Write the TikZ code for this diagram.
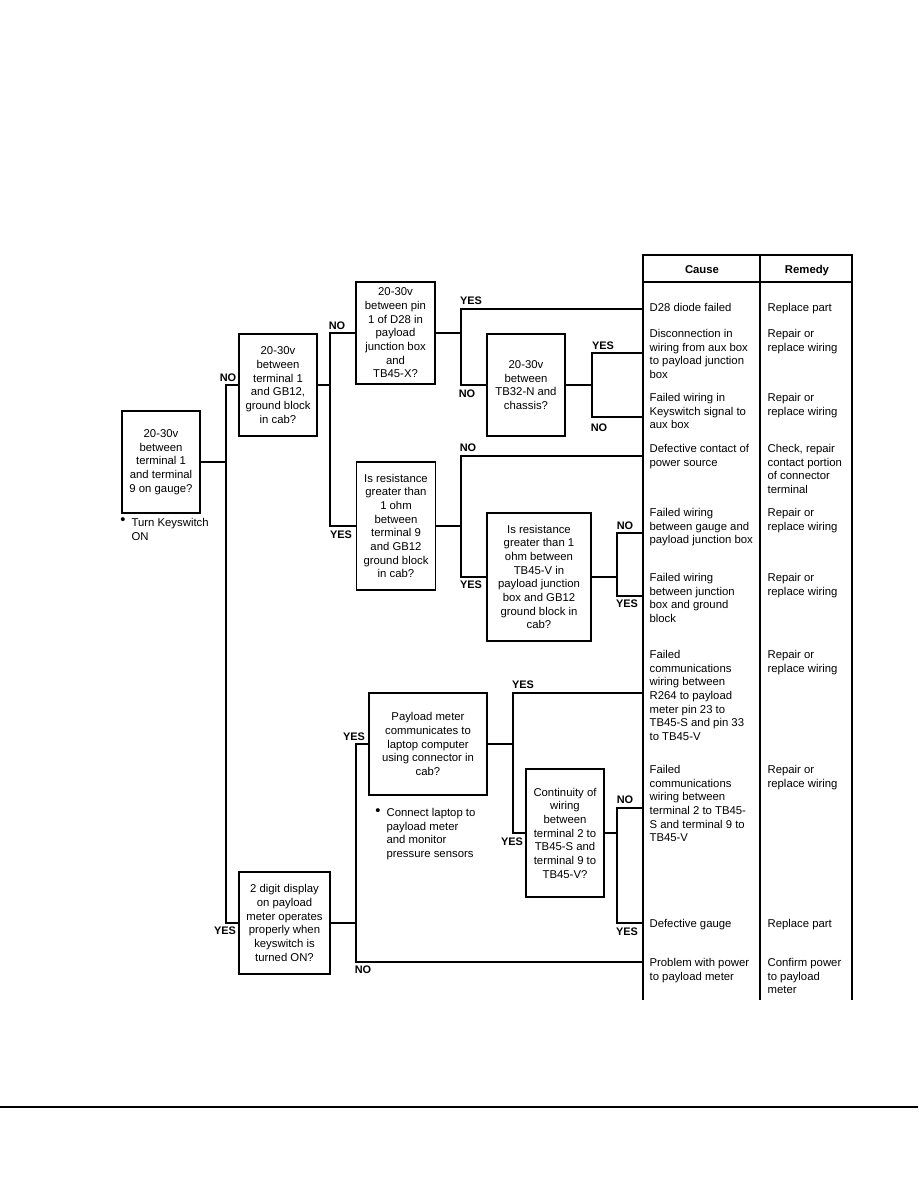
\documentclass[tikz,border=0pt]{standalone}
\usepackage{fontspec}
\setmainfont{Liberation Sans}
\newcommand\myfs{\fontsize{8.5}{10.25}\selectfont}
\begin{document}
\begin{tikzpicture}[x=0.75pt,y=-0.75pt,line width=0.9pt,
  every node/.style={inner sep=0pt},
  qbox/.style={draw,align=center,font=\myfs},
  txt/.style={align=left,anchor=north west,font=\myfs},
  lab/.style={font=\bfseries\fontsize{8.2}{10}\selectfont},
  hdr/.style={font=\bfseries\myfs,anchor=base},
  bul/.style={font=\fontsize{11}{12}\selectfont},
  tbl/.style={line width=1pt}]
\useasboundingbox (0,0) rectangle (918,1188);

% ---------- table ----------
\coordinate (tTL) at (643,255);
\coordinate (tTR) at (852,255);
\coordinate (tBL) at (643,1000);
\coordinate (tBR) at (852,1000);
\coordinate (tDT) at (760,255);
\coordinate (tDB) at (760,1000);
\coordinate (hL) at (643,282);
\coordinate (hR) at (852,282);
\draw[tbl] (tBL) -- (tTL) -- (tTR) -- (tBR);
\draw[tbl] (hL) -- (hR);
\draw[tbl] (tDT) -- (tDB);
\node[hdr] (hc) at (702,273) {Cause};
\node[hdr] (hr) at (807,273) {Remedy};

% cause column
\node[txt] (c1t) at (649,302.8) {D28 diode failed};
\node[txt] (c2t) at (649,328.8) {Disconnection in\\wiring from aux box\\to payload junction\\box};
\node[txt] (c3t) at (649,392.8) {Failed wiring in\\Keyswitch signal to\\aux box};
\node[txt] (c4t) at (649,443.8) {Defective contact of\\power source};
\node[txt] (c5t) at (649,507.8) {Failed wiring\\between gauge and\\payload junction box};
\node[txt] (c6t) at (649,572.8) {Failed wiring\\between junction\\box and ground\\block};
\node[txt] (c7t) at (649,649.8) {Failed\\communications\\wiring between\\R264 to payload\\meter pin 23 to\\TB45-S and pin 33\\to TB45-V};
\node[txt] (c8t) at (649,764.8) {Failed\\communications\\wiring between\\terminal 2 to TB45-\\S and terminal 9 to\\TB45-V};
\node[txt] (c9t) at (649,918.8) {Defective gauge};
\node[txt] (c10t) at (649,957.8) {Problem with power\\to payload meter};

% remedy column
\node[txt] (r1t) at (767,302.8) {Replace part};
\node[txt] (r2t) at (767,328.8) {Repair or\\replace wiring};
\node[txt] (r3t) at (767,392.8) {Repair or\\replace wiring};
\node[txt] (r4t) at (767,443.8) {Check, repair\\contact portion\\of connector\\terminal};
\node[txt] (r5t) at (767,507.8) {Repair or\\replace wiring};
\node[txt] (r6t) at (767,572.8) {Repair or\\replace wiring};
\node[txt] (r7t) at (767,649.8) {Repair or\\replace wiring};
\node[txt] (r8t) at (767,764.8) {Repair or\\replace wiring};
\node[txt] (r9t) at (767,918.8) {Replace part};
\node[txt] (r10t) at (767,957.8) {Confirm power\\to payload\\meter};

% connector end points at the table
\coordinate (c1) at (643,309);
\coordinate (c2) at (643,353);
\coordinate (c3) at (643,417);
\coordinate (c4) at (643,456);
\coordinate (c5) at (643,533);
\coordinate (c6) at (643,596);
\coordinate (c7) at (643,693);
\coordinate (c8) at (643,808);
\coordinate (c9) at (643,923);
\coordinate (c10) at (643,962);

% ---------- decision boxes ----------
\node[qbox,minimum width=58.5pt,minimum height=76.5pt] (B1) at (161,462)
  {20-30v\\between\\terminal 1\\and terminal\\9 on gauge?};
\node[qbox,minimum width=58.5pt,minimum height=76.5pt] (B2) at (278,385)
  {20-30v\\between\\terminal 1\\and GB12,\\ground block\\in cab?};
\node[qbox,minimum width=59.25pt,minimum height=76.5pt] (B3) at (395.5,333)
  {20-30v\\between pin\\1 of D28 in\\payload\\junction box\\and\\TB45-X?};
\node[qbox,minimum width=58.5pt,minimum height=76.5pt] (B5) at (526,385)
  {20-30v\\between\\TB32-N and\\chassis?};
\node[qbox,minimum width=59.25pt,minimum height=96pt] (B4) at (396,526)
  {Is resistance\\greater than\\1 ohm\\between\\terminal 9\\and GB12\\ground block\\in cab?};
\node[qbox,minimum width=78pt,minimum height=96pt] (B6) at (539,577)
  {Is resistance\\greater than 1\\ohm between\\TB45-V in\\payload junction\\box and  GB12\\ground block in\\cab?};
\node[qbox,minimum width=68.25pt,minimum height=76.5pt] (B7) at (284.5,923)
  {2 digit display\\on payload\\meter operates\\properly when\\keyswitch is\\turned ON?};
\node[qbox,minimum width=88.5pt,minimum height=76.5pt] (B8) at (428,744)
  {Payload meter\\communicates to\\laptop computer\\using connector in\\cab?};
\node[qbox,minimum width=58.5pt,minimum height=96pt] (B9) at (565,833)
  {Continuity of\\wiring\\between\\terminal 2 to\\TB45-S and\\terminal 9 to\\TB45-V?};

% bullet notes
\node[bul] (bu1) at (123,521) {\textbullet};
\node[txt] (n1) at (131,517.8) {Turn Keyswitch\\ON};
\node[bul] (bu2) at (378,812) {\textbullet};
\node[txt] (n2) at (386,807.8) {Connect laptop to\\payload meter\\and monitor\\pressure sensors};

% ---------- connectors ----------
\coordinate (j1) at (226,462);
\draw (B1.east) -- (j1);
\draw (B2.west) -| (j1) |- (B7.west);

\coordinate (j2) at (330,385);
\draw (B2.east) -- (j2);
\draw (B3.west) -| (j2) |- (B4.west);

\coordinate (j3) at (461,333);
\draw (B3.east) -- (j3);
\draw (c1) -| (j3) |- (B5.west);

\coordinate (j5) at (592,385);
\draw (B5.east) -- (j5);
\draw (c2) -| (j5) |- (c3);

\coordinate (j4) at (461,526);
\draw (B4.east) -- (j4);
\draw (c4) -| (j4) |- (B6.west);

\coordinate (j6) at (617,577);
\draw (B6.east) -- (j6);
\draw (c5) -| (j6) |- (c6);

\coordinate (j7) at (356,923);
\draw (B7.east) -- (j7);
\draw (B8.west) -| (j7) |- (c10);

\coordinate (j8) at (513,744);
\draw (B8.east) -- (j8);
\draw (c7) -| (j8) |- (B9.west);

\coordinate (j9) at (617,833);
\draw (B9.east) -- (j9);
\draw (c8) -| (j9) |- (c9);

% ---------- YES / NO labels ----------
\node[lab] (l1) at (228,378) {NO};
\node[lab] (l2) at (225,931) {YES};
\node[lab] (l3) at (337,326) {NO};
\node[lab] (l4) at (341,535) {YES};
\node[lab] (l5) at (471,301) {YES};
\node[lab] (l6) at (467,394) {NO};
\node[lab] (l7) at (603,346) {YES};
\node[lab] (l8) at (599,428) {NO};
\node[lab] (l9) at (468,448) {NO};
\node[lab] (l10) at (471,585) {YES};
\node[lab] (l11) at (625,526) {NO};
\node[lab] (l12) at (627,604) {YES};
\node[lab] (l13) at (354,737) {YES};
\node[lab] (l14) at (363,970) {NO};
\node[lab] (l15) at (523,685) {YES};
\node[lab] (l16) at (512,842) {YES};
\node[lab] (l17) at (625,800) {NO};
\node[lab] (l18) at (627,932) {YES};

% bottom rule
\coordinate (rl) at (0,1107);
\coordinate (rr) at (918,1107);
\draw[line width=1.6pt] (rl) -- (rr);
\end{tikzpicture}
\end{document}
